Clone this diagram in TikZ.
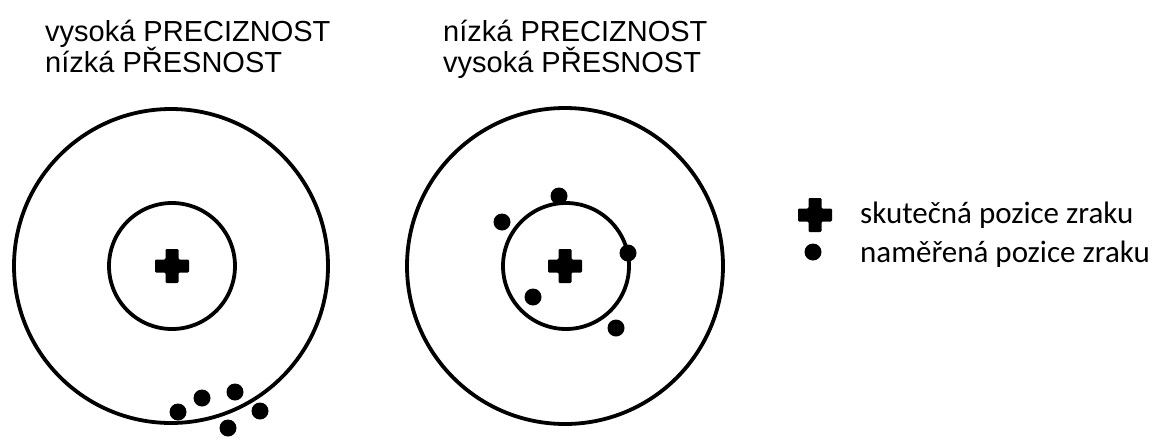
\documentclass[tikz,border=0pt]{standalone}
\usepackage{fontspec}
\setmainfont{Liberation Sans}
\newfontfamily\legendfont{Carlito}
\begin{document}
\begin{tikzpicture}[x=1pt,y=-1pt,
  ring/.style={draw=black,line width=3.8pt},
  dot/.style={circle,fill=black,inner sep=0pt,minimum size=17pt},
  title/.style={anchor=base west,inner sep=0pt,font=\fontsize{29}{30}\selectfont},
  legtext/.style={anchor=base west,inner sep=0pt,font=\legendfont\fontsize{31}{32}\selectfont},
  plusmark/.pic={\fill[black,rounded corners=1.2pt] (-17,-6.5) -- (-6.5,-6.5) -- (-6.5,-17) -- (6.5,-17) -- (6.5,-6.5) -- (17,-6.5) -- (17,6.5) -- (6.5,6.5) -- (6.5,17) -- (-6.5,17) -- (-6.5,6.5) -- (-17,6.5) -- cycle;}
]
\useasboundingbox (0,0) rectangle (1168,437);
\fill[white] (0,0) rectangle (1168,437);

% titles
\node[title] (t1a) at (45,41) {vysoká PRECIZNOST};
\node[title] (t1b) at (45,72) {nízká PŘESNOST};
\node[title] (t2a) at (443,41) {nízká PRECIZNOST};
\node[title] (t2b) at (443,72) {vysoká PŘESNOST};

% left target
\draw[ring] (171,266) circle[radius=157pt];
\draw[ring] (172,266) circle[radius=63pt];
\pic at (172,266) {plusmark};
\node[dot] (l1) at (178,412) {};
\node[dot] (l2) at (202,398) {};
\node[dot] (l3) at (235,392) {};
\node[dot] (l4) at (260,411) {};
\node[dot] (l5) at (228,428) {};

% right target
\draw[ring] (565,266) circle[radius=158pt];
\draw[ring] (566,266) circle[radius=63pt];
\pic at (565,266) {plusmark};
\node[dot] (r1) at (559,196) {};
\node[dot] (r2) at (502,222) {};
\node[dot] (r3) at (628,253) {};
\node[dot] (r4) at (533,297) {};
\node[dot] (r5) at (616,328) {};

% legend
\pic at (815,215) {plusmark};
\node[dot] (legdot) at (813,252) {};
\node[legtext] (leg1) at (860,223) {skutečná pozice zraku};
\node[legtext] (leg2) at (860,262) {naměřená pozice zraku};
\end{tikzpicture}
\end{document}
